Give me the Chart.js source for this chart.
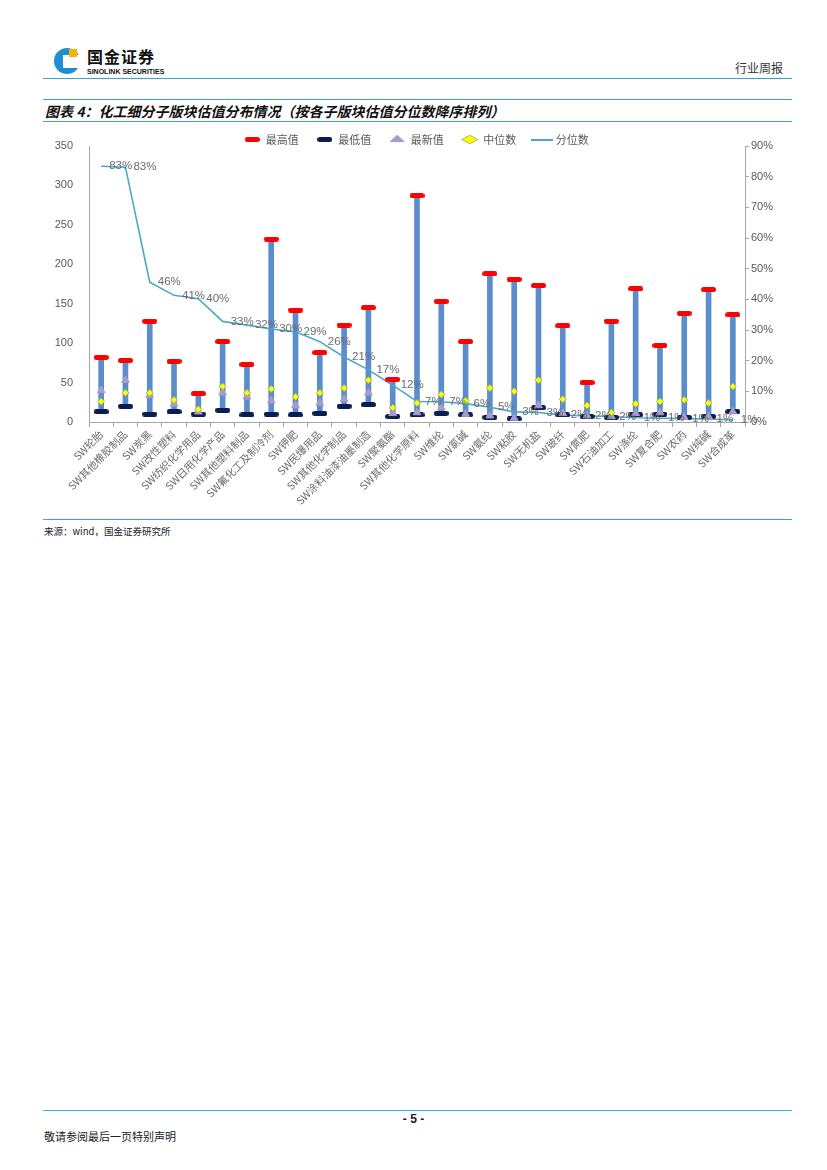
<!doctype html>
<html lang="zh">
<head>
  <meta charset="utf-8">
  <title>化工细分子版块估值分布情况</title>
  <script src="https://cdn.jsdelivr.net/npm/chart.js"></script>
  <style>
    body { margin: 0; width: 827px; height: 1170px; position: relative; background: #fff;
           font-family: "Noto Sans CJK SC", sans-serif; color: #222; }
    .abs { position: absolute; }
    .hline { position: absolute; left: 43px; width: 749px; height: 0; border-top: 1.5px solid #3aa3cf; }
    #wrap { position: absolute; left: 43px; top: 116px; width: 747px; height: 399px; }
  </style>
</head>
<body>
  <!-- 页眉 -->
  <div class="abs" style="left:54px;top:48px;width:26px;height:26px;border-radius:50%;background:#1f8fd1;"></div>
  <div class="abs" style="left:63px;top:55px;width:17px;height:13px;background:#fff;"></div>
  <div class="abs" style="left:69px;top:49px;width:8px;height:8px;background:#f4b400;"></div>
  <div class="abs" style="left:87px;top:46px;font-size:16px;line-height:20px;font-weight:bold;letter-spacing:1px;color:#111;">国金证券</div>
  <div class="abs" style="left:87px;top:68px;font-size:7px;line-height:8px;font-weight:bold;font-family:Arial,sans-serif;color:#111;">SINOLINK SECURITIES</div>
  <div class="abs" style="left:735px;top:59px;font-size:12px;color:#333;">行业周报</div>
  <div class="hline" style="top:78px;"></div>

  <div class="hline" style="top:99px;"></div>
  <div class="abs" style="left:45px;top:101px;font-size:14px;font-weight:bold;font-style:italic;color:#111;">图表 4：化工细分子版块估值分布情况（按各子版块估值分位数降序排列）</div>
  <div class="hline" style="top:121px;"></div>

  <div id="wrap"><canvas id="chart"></canvas></div>

  <div class="hline" style="top:519px;"></div>
  <div class="abs" style="left:44px;top:524px;font-size:9.5px;color:#222;">来源：wind，国金证券研究所</div>

  <!-- 页脚 -->
  <div class="hline" style="top:1110px;border-top-color:#2bb5e6;"></div>
  <div class="abs" style="left:0;width:827px;top:1112px;text-align:center;font-size:12px;font-weight:bold;font-family:Arial,sans-serif;">- 5 -</div>
  <div class="abs" style="left:44px;top:1128px;font-size:11px;color:#222;">敬请参阅最后一页特别声明</div>

  <script>
    const categories = ['SW轮胎', 'SW其他橡胶制品', 'SW炭黑', 'SW改性塑料', 'SW纺织化学用品', 'SW日用化学产品',
      'SW其他塑料制品', 'SW氟化工及制冷剂', 'SW钾肥', 'SW民爆用品', 'SW其他化学制品', 'SW涂料油漆油墨制造',
      'SW聚氨酯', 'SW其他化学原料', 'SW维纶', 'SW氯碱', 'SW氨纶', 'SW粘胶', 'SW无机盐', 'SW玻纤', 'SW氮肥',
      'SW石油加工', 'SW涤纶', 'SW复合肥', 'SW农药', 'SW纯碱', 'SW合成革'];
    const maxVals = [82, 78, 128, 77, 36, 102, 73, 232, 142, 88, 123, 145, 54, 287, 153, 102, 188, 181, 173, 122, 50, 128, 169, 97, 138, 168, 136];
    const minVals = [13, 20, 10, 13, 10, 15, 9, 10, 9, 11, 20, 22, 7, 9, 11, 9, 6, 4, 18, 9, 7, 6, 9, 10, 6, 7, 13];
    const latestVals = [40, 53, 34, 23, 13, 37, 32, 27, 21, 24, 29, 37, 11, 12, 18, 10, 8, 5, 21, 11, 8, 7, 11, 12, 6, 7, 13];
    const medianVals = [26, 37, 37, 28, 16, 45, 37, 42, 32, 37, 43, 53, 18, 24, 35, 27, 43, 39, 53, 29, 21, 12, 23, 26, 28, 24, 45];
    const pctVals = [83.4, 83.1, 45.6, 41.3, 40.2, 32.8, 31.6, 30.3, 29.4, 26.2, 21.2, 17, 12, 6.7, 6.6, 6, 4.8, 3.3, 3.1, 2.3, 2, 1.8, 1.4, 1.2, 1.1, 1.0, 0.7];
    const leftTicks = [0, 50, 100, 150, 200, 250, 300, 350];
    const rightTicks = [0, 10, 20, 30, 40, 50, 60, 70, 80, 90];

    // 横条标记
    function dash(color, w, h) {
      const c = document.createElement('canvas');
      c.width = w; c.height = h;
      const g = c.getContext('2d');
      const r = h / 2;
      g.fillStyle = color;
      g.beginPath();
      g.moveTo(r, 0); g.lineTo(w - r, 0);
      g.arc(w - r, r, r, -Math.PI / 2, Math.PI / 2);
      g.lineTo(r, h);
      g.arc(r, r, r, Math.PI / 2, Math.PI * 1.5);
      g.fill();
      return c;
    }
    function lineIcon(color, w, h) {
      const c = document.createElement('canvas');
      c.width = w; c.height = h;
      const g = c.getContext('2d');
      g.fillStyle = color;
      g.fillRect(0, 0, w, h);
      return c;
    }
    const redDash = dash('#ff0000', 15, 5);
    const navyDash = dash('#0b1d4f', 15, 5);
    const tealLine = lineIcon('#4aa8c8', 22, 2);

    const pctLabels = {
      id: 'pctLabels',
      afterDatasetsDraw(chart) {
        const meta = chart.getDatasetMeta(4);
        const ctx = chart.ctx;
        ctx.save();
        ctx.font = '11.5px Arial';
        ctx.fillStyle = '#6b6b6b';
        ctx.textBaseline = 'middle';
        meta.data.forEach((pt, i) => {
          ctx.fillText(Math.round(pctVals[i]) + '%', pt.x + 8, pt.y);
        });
        ctx.restore();
      }
    };

    const tickFont = { family: 'Arial', size: 11 };

    new Chart(document.getElementById('chart'), {
      type: 'bar',
      data: {
        labels: categories,
        datasets: [
          { type: 'line', label: '最高值', data: maxVals, showLine: false, pointStyle: redDash,
            pointRadius: 6, yAxisID: 'y', order: 3 },
          { type: 'line', label: '最低值', data: minVals, showLine: false, pointStyle: navyDash,
            pointRadius: 6, yAxisID: 'y', order: 2 },
          { type: 'line', label: '最新值', data: latestVals, showLine: false, pointStyle: 'triangle',
            pointRadius: 4.5, backgroundColor: '#a89ccc', borderColor: '#a89ccc', yAxisID: 'y', order: 1 },
          { type: 'line', label: '中位数', data: medianVals, showLine: false, pointStyle: 'rectRot',
            pointRadius: 3.5, backgroundColor: '#ffff00', borderColor: '#9fbf4a', borderWidth: 1,
            yAxisID: 'y', order: 0 },
          { type: 'line', label: '分位数', data: pctVals, borderColor: '#4aa8c8', borderWidth: 1.6,
            pointRadius: 0, pointStyle: tealLine, tension: 0, yAxisID: 'y1', order: 4 },
          { type: 'bar', label: '区间', data: categories.map((c, i) => [minVals[i], maxVals[i]]),
            backgroundColor: '#5b8dcc', barThickness: 5, yAxisID: 'y', order: 5 }
        ]
      },
      options: {
        responsive: true,
        maintainAspectRatio: false,
        animation: false,
        layout: { padding: 0 },
        plugins: {
          tooltip: { enabled: false },
          legend: {
            position: 'top',
            labels: {
              usePointStyle: true,
              pointStyleWidth: 16,
              boxHeight: 6,
              padding: 18,
              color: '#595959',
              font: { family: '"Noto Sans CJK SC"', size: 11 },
              filter: item => item.datasetIndex < 5,
              sort: (a, b) => a.datasetIndex - b.datasetIndex
            }
          }
        },
        scales: {
          x: {
            offset: true,
            grid: { drawOnChartArea: false, tickLength: 5, color: '#a6a6a6', offset: true },
            border: { color: '#a6a6a6' },
            ticks: { autoSkip: false, maxRotation: 45, minRotation: 45, color: '#6b6b6b',
                     font: { family: '"Noto Sans CJK SC"', size: 10.5 }, padding: 1 },
            afterFit: s => { s.height = 93; }
          },
          y: {
            position: 'left', min: 0, max: 350,
            grid: { display: false },
            border: { display: true, color: '#a6a6a6' },
            ticks: { stepSize: 50, color: '#595959', font: tickFont, padding: 8,
                     callback: v => leftTicks.includes(v) ? v : '' },
            afterFit: s => { s.width = 46; }
          },
          y1: {
            position: 'right', min: 0, max: 90,
            grid: { drawOnChartArea: false, tickLength: 4, color: '#a6a6a6' },
            border: { color: '#a6a6a6' },
            ticks: { stepSize: 10, color: '#595959', font: tickFont, padding: 2,
                     callback: v => rightTicks.includes(v) ? v + '%' : '' },
            afterFit: s => { s.width = 45; }
          }
        }
      },
      plugins: [pctLabels, {
        id: 'legendHeight',
        beforeInit(chart) {
          const fit = chart.legend.fit;
          chart.legend.fit = function () { fit.call(this); this.height = 30; };
        }
      }]
    });
  </script>
</body>
</html>
